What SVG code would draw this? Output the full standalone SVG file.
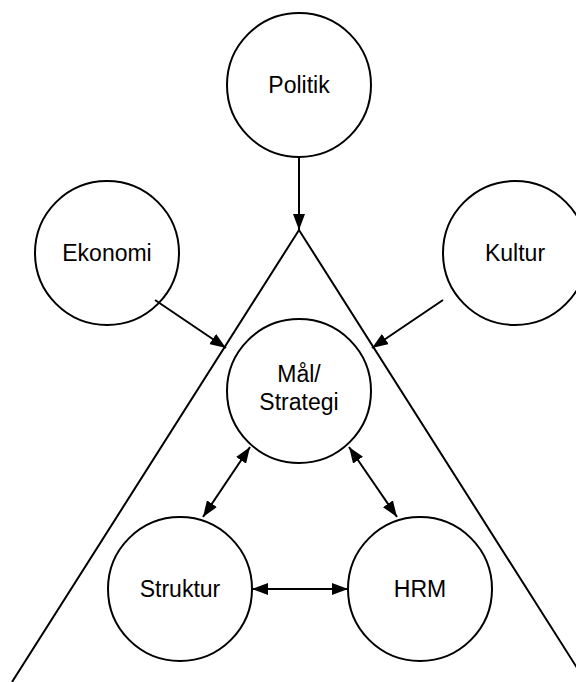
<svg xmlns="http://www.w3.org/2000/svg" width="576" height="682" viewBox="0 0 576 682">
<style>
.node{fill:#fff;stroke:#000;stroke-width:2}
.lbl{font-family:"Liberation Sans",Arial,sans-serif;font-size:23px;fill:#000;text-anchor:middle;dominant-baseline:central}
.ln{stroke:#000;stroke-width:2;fill:none}
</style>
<defs>
<marker id="ah2" viewBox="0 0 16 12" refX="16" refY="6" markerWidth="16" markerHeight="12" markerUnits="userSpaceOnUse" orient="auto-start-reverse">
<path d="M0,0 L16,6 L0,12 z" fill="#000"/>
</marker>
</defs>
<g id="triangle">
<path class="ln" d="M12,682 L299,230 L586,682"/>
</g>
<g id="politik"><circle class="node" cx="299" cy="85" r="72"/><text class="lbl" x="299" y="85">Politik</text></g>
<g id="ekonomi"><circle class="node" cx="107" cy="253" r="72"/><text class="lbl" x="107" y="253">Ekonomi</text></g>
<g id="kultur"><circle class="node" cx="515" cy="253" r="72"/><text class="lbl" x="515" y="253">Kultur</text></g>
<g id="mal"><circle class="node" cx="299" cy="391" r="72"/><text class="lbl" x="299" y="374">Mål/</text><text class="lbl" x="299" y="402">Strategi</text></g>
<g id="struktur"><circle class="node" cx="180" cy="589" r="72"/><text class="lbl" x="180" y="589">Struktur</text></g>
<g id="hrm"><circle class="node" cx="420" cy="589" r="72"/><text class="lbl" x="420" y="589">HRM</text></g>
<g id="connectors">
<line class="ln" x1="299" y1="157" x2="299" y2="230" marker-end="url(#ah2)"/>
<line class="ln" x1="155" y1="300" x2="226" y2="348" marker-end="url(#ah2)"/>
<line class="ln" x1="443" y1="300" x2="372" y2="348" marker-end="url(#ah2)"/>
<line class="ln" x1="250" y1="447" x2="203" y2="517" marker-start="url(#ah2)" marker-end="url(#ah2)"/>
<line class="ln" x1="349" y1="447" x2="397" y2="517" marker-start="url(#ah2)" marker-end="url(#ah2)"/>
<line class="ln" x1="252" y1="589" x2="348" y2="589" marker-start="url(#ah2)" marker-end="url(#ah2)"/>
</g>
</svg>
